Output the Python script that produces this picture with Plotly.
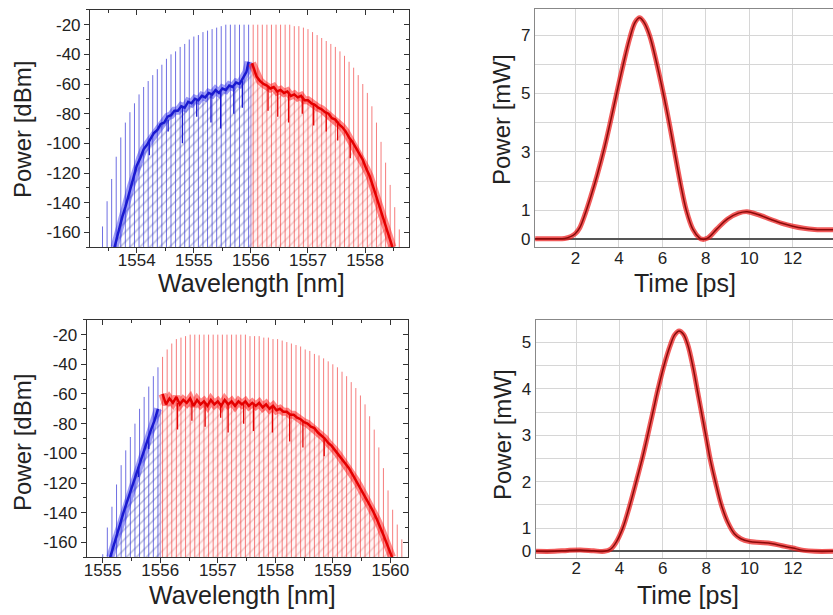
import plotly.graph_objects as go

# Axis limits / split wavelength
Y_MIN, Y_MAX = -170, -10
SPLIT_NM = 1556.0

# ---------- top-left spectrum ----------
tl_blue_comb_nm = [1553.40, 1553.48, 1553.56, 1553.64, 1553.72, 1553.80, 1553.88, 1553.96, 1554.04, 1554.12,
                   1554.20, 1554.28, 1554.36, 1554.44, 1554.52, 1554.60, 1554.68, 1554.76, 1554.84, 1554.92,
                   1555.00, 1555.08, 1555.16, 1555.24, 1555.32, 1555.40, 1555.48, 1555.56, 1555.64, 1555.72,
                   1555.80, 1555.88, 1555.96]
tl_blue_comb_dbm = [-156, -139, -124, -109, -96, -86, -79, -73, -67, -62,
                    -58, -54, -50, -47, -43, -40, -38, -35, -33, -30,
                    -28, -27, -25, -24, -23, -22, -21, -20, -20, -20,
                    -20, -20, -20]
tl_red_comb_nm = [1556.04, 1556.12, 1556.20, 1556.28, 1556.36, 1556.44, 1556.52, 1556.60, 1556.68, 1556.76,
                  1556.84, 1556.92, 1557.00, 1557.08, 1557.16, 1557.24, 1557.32, 1557.40, 1557.48, 1557.56,
                  1557.64, 1557.72, 1557.80, 1557.88, 1557.96, 1558.04, 1558.12, 1558.20, 1558.28, 1558.36,
                  1558.44, 1558.52, 1558.60]
tl_red_comb_dbm = [-20, -20, -20, -20, -20, -20, -20, -20, -20, -21,
                   -21, -22, -23, -25, -27, -29, -31, -33, -35, -38,
                   -41, -45, -49, -54, -60, -66, -75, -86, -99, -113,
                   -128, -143, -158]

tl_blue_nm = [1553.61, 1553.66, 1553.70, 1553.75, 1553.80, 1553.85, 1553.90, 1553.95, 1554.00, 1554.06,
              1554.12, 1554.18, 1554.24, 1554.30, 1554.36, 1554.42, 1554.48, 1554.54, 1554.60, 1554.66,
              1554.72, 1554.78, 1554.84, 1554.90, 1554.96, 1555.02, 1555.08, 1555.14, 1555.20, 1555.26,
              1555.32, 1555.38, 1555.44, 1555.50, 1555.56, 1555.62, 1555.68, 1555.74, 1555.80, 1555.86,
              1555.92, 1555.96]
tl_blue_dbm = [-170, -162, -155, -149, -143, -136, -129, -122, -115, -110,
               -104, -101, -97, -93, -91, -87, -86, -82, -81, -78,
               -78, -75, -76, -72, -73, -70, -71, -68, -69, -66,
               -67, -64, -66, -63, -64, -61, -62, -59, -60, -56,
               -52, -45]
tl_red_nm = [1556.02, 1556.06, 1556.10, 1556.16, 1556.22, 1556.28, 1556.34, 1556.40, 1556.46, 1556.52,
             1556.58, 1556.64, 1556.70, 1556.76, 1556.82, 1556.88, 1556.94, 1557.00, 1557.06, 1557.12,
             1557.18, 1557.24, 1557.30, 1557.36, 1557.42, 1557.48, 1557.54, 1557.60, 1557.66, 1557.72,
             1557.78, 1557.84, 1557.90, 1557.96, 1558.02, 1558.08, 1558.14, 1558.20, 1558.26, 1558.32,
             1558.38, 1558.44, 1558.48]
tl_red_dbm = [-46, -50, -55, -58, -60, -61, -63, -62, -65, -64,
              -66, -65, -68, -67, -69, -68, -71, -71, -73, -74,
              -76, -77, -79, -80, -83, -84, -87, -89, -92, -96,
              -99, -103, -107, -111, -117, -122, -129, -136, -143, -150,
              -158, -165, -170]

# downward spikes in the noise band (position, top, bottom)
tl_blue_dip_nm = [1554.22, 1554.55, 1554.80, 1555.05, 1555.30, 1555.47, 1555.70, 1555.85]
tl_blue_dip_top = [-99, -84, -76, -71, -67, -65, -62, -58]
tl_blue_dip_bot = [-108, -92, -100, -82, -86, -90, -80, -76]
tl_red_dip_nm = [1556.30, 1556.47, 1556.66, 1556.90, 1557.10, 1557.32, 1557.52, 1557.74]
tl_red_dip_top = [-62, -64, -66, -69, -73, -79, -85, -97]
tl_red_dip_bot = [-78, -82, -86, -80, -88, -92, -98, -110]

# ---------- bottom-left spectrum ----------
bl_blue_comb_nm = [1555.00, 1555.08, 1555.16, 1555.24, 1555.32, 1555.40, 1555.48, 1555.56, 1555.64, 1555.72,
                   1555.80, 1555.88, 1555.96]
bl_blue_comb_dbm = [-168, -150, -136, -121, -108, -98, -89, -80, -70, -62, -55, -48, -42]
bl_red_comb_nm = [1556.04, 1556.12, 1556.20, 1556.28, 1556.36, 1556.44, 1556.52, 1556.60, 1556.68, 1556.76,
                  1556.84, 1556.92, 1557.00, 1557.08, 1557.16, 1557.24, 1557.32, 1557.40, 1557.48, 1557.56,
                  1557.64, 1557.72, 1557.80, 1557.88, 1557.96, 1558.04, 1558.12, 1558.20, 1558.28, 1558.36,
                  1558.44, 1558.52, 1558.60, 1558.68, 1558.76, 1558.84, 1558.92, 1559.00, 1559.08, 1559.16,
                  1559.24, 1559.32, 1559.40, 1559.48, 1559.56, 1559.64, 1559.72, 1559.80, 1559.88, 1559.96,
                  1560.04, 1560.12, 1560.20]
bl_red_comb_dbm = [-35, -30, -26, -23, -22, -21, -20, -20, -20, -20,
                   -20, -20, -20, -20, -20, -20, -20, -20, -20, -21,
                   -21, -21, -22, -22, -23, -23, -24, -25, -26, -27,
                   -28, -30, -31, -33, -34, -36, -38, -40, -42, -45,
                   -48, -52, -56, -61, -67, -75, -84, -96, -110, -125,
                   -138, -148, -158]

bl_blue_nm = [1555.13, 1555.18, 1555.24, 1555.30, 1555.36, 1555.42, 1555.48, 1555.54, 1555.60, 1555.66,
              1555.72, 1555.78, 1555.84, 1555.90, 1555.96]
bl_blue_dbm = [-170, -164, -156, -148, -140, -133, -125, -118, -111, -105, -97, -91, -84, -78, -70]
bl_red_nm = [1556.04, 1556.10, 1556.16, 1556.22, 1556.28, 1556.34, 1556.40, 1556.46, 1556.52, 1556.58,
             1556.64, 1556.70, 1556.76, 1556.82, 1556.88, 1556.94, 1557.00, 1557.06, 1557.12, 1557.18,
             1557.24, 1557.30, 1557.36, 1557.42, 1557.48, 1557.54, 1557.60, 1557.66, 1557.72, 1557.78,
             1557.84, 1557.90, 1557.96, 1558.02, 1558.08, 1558.14, 1558.20, 1558.26, 1558.32, 1558.38,
             1558.44, 1558.50, 1558.56, 1558.62, 1558.68, 1558.74, 1558.80, 1558.86, 1558.92, 1558.98,
             1559.04, 1559.10, 1559.16, 1559.22, 1559.28, 1559.34, 1559.40, 1559.46, 1559.52, 1559.58,
             1559.64, 1559.70, 1559.76, 1559.82, 1559.88, 1559.94, 1560.00, 1560.03]
bl_red_dbm = [-60, -67, -63, -66, -62, -67, -64, -66, -63, -68,
              -64, -67, -65, -68, -64, -67, -65, -68, -64, -67,
              -65, -68, -65, -67, -65, -68, -66, -68, -66, -69,
              -67, -70, -68, -71, -70, -72, -72, -74, -74, -76,
              -77, -79, -80, -82, -83, -86, -88, -90, -93, -95,
              -98, -101, -104, -107, -110, -114, -118, -122, -126, -130,
              -135, -139, -144, -149, -155, -161, -167, -170]

bl_blue_dip_nm = [1555.62, 1555.80]
bl_blue_dip_top = [-109, -89]
bl_blue_dip_bot = [-116, -97]
bl_red_dip_nm = [1556.30, 1556.55, 1556.78, 1557.05, 1557.18, 1557.45, 1557.62, 1557.95, 1558.25, 1558.48, 1558.85]
bl_red_dip_top = [-66, -66, -66, -66, -66, -66, -67, -69, -73, -78, -89]
bl_red_dip_bot = [-84, -78, -82, -76, -86, -80, -85, -86, -92, -96, -102]

spec_ticks = [-20, -40, -60, -80, -100, -120, -140, -160]
spec_ticktext = ['-20', '-40', '-60', '-80', '-100', '-120', '-140', '-160']

# ---------- pulses ----------
tr_time_ps = [0.15, 1.0, 1.5, 1.8, 2.0, 2.2, 2.46, 2.7, 3.0, 3.32, 3.6, 3.88, 4.2, 4.5, 4.75, 4.95, 5.15,
              5.41, 5.75, 6.1, 6.35, 6.56, 6.85, 7.1, 7.4, 7.7, 7.85, 8.1, 8.5, 9.0, 9.5, 9.9, 10.4, 11.0,
              11.5, 12.0, 12.5, 13.0, 13.85]
tr_power_mw = [0.02, 0.02, 0.03, 0.1, 0.2, 0.4, 0.9, 1.45, 2.2, 3.1, 4.0, 4.95, 6.0, 6.9, 7.45, 7.6, 7.45,
               7.0, 6.0, 4.8, 3.85, 3.0, 1.85, 1.0, 0.35, 0.05, 0.0, 0.05, 0.35, 0.7, 0.9, 0.95, 0.85, 0.68,
               0.55, 0.45, 0.38, 0.34, 0.33]
tr_ticks = [0, 1, 2, 3, 4, 5, 6, 7]
tr_ticktext = ['0', '1', '', '3', '', '5', '', '7']

br_time_ps = [0.15, 1.0, 1.6, 2.2, 2.8, 3.3, 3.6, 3.85, 4.15, 4.45, 4.77, 5.05, 5.31, 5.55, 5.78, 6.05,
              6.35, 6.55, 6.75, 6.95, 7.15, 7.4, 7.6, 7.8, 8.0, 8.2, 8.45, 8.7, 9.0, 9.3, 9.6, 10.0,
              10.5, 11.0, 11.5, 12.0, 12.5, 13.0, 13.85]
br_power = [0.0, 0.0, 0.02, 0.03, 0.01, 0.0, 0.05, 0.2, 0.5, 0.95, 1.5, 2.0, 2.52, 3.02, 3.5, 4.0,
            4.45, 4.67, 4.75, 4.68, 4.45, 3.95, 3.45, 2.95, 2.45, 1.95, 1.45, 1.0, 0.62, 0.38, 0.27, 0.21,
            0.19, 0.17, 0.12, 0.07, 0.02, 0.0, 0.0]
br_ticks = [0, 0.5, 1, 1.5, 2, 2.5, 3, 3.5, 4, 4.5]
br_ticktext = ['0', '1', '', '2', '', '3', '', '4', '', '5']

time_ticks = [2, 4, 6, 8, 10, 12, 14]

FONT = 'Liberation Sans, Arial, sans-serif'
BLUE_COMB = 'rgba(55,55,215,0.72)'
RED_COMB = 'rgba(240,45,45,0.62)'


def segs(xs, lo, hi):
    x, y = [], []
    for w, a, b in zip(xs, lo, hi):
        x += [w, w, None]
        y += [a, b, None]
    return x, y


def add_spectrum(fig, xa, ya, comb, noise, dips):
    (b_cnm, b_cdb), (r_cnm, r_cdb) = comb
    (b_nm, b_dbm), (r_nm, r_dbm) = noise
    # hatched areas under the noise traces
    fig.add_trace(go.Scatter(
        x=b_nm + [SPLIT_NM, SPLIT_NM], y=b_dbm + [b_dbm[-1], Y_MIN],
        fill='toself', mode='none', fillcolor='rgba(255,255,255,0)',
        fillpattern=dict(shape='/', fgcolor='#6f78b4', bgcolor='rgba(255,255,255,0)', size=7, solidity=0.22),
        xaxis=xa, yaxis=ya, hoverinfo='skip'))
    fig.add_trace(go.Scatter(
        x=[SPLIT_NM, SPLIT_NM] + r_nm, y=[Y_MIN, r_dbm[0]] + r_dbm,
        fill='toself', mode='none', fillcolor='rgba(255,235,235,0.5)',
        fillpattern=dict(shape='/', fgcolor='#e59a9a', bgcolor='rgba(255,238,238,0.5)', size=7, solidity=0.22),
        xaxis=xa, yaxis=ya, hoverinfo='skip'))
    # comb lines
    cx, cy = segs(b_cnm, [Y_MIN] * len(b_cnm), b_cdb)
    fig.add_trace(go.Scatter(x=cx, y=cy, mode='lines', line=dict(color=BLUE_COMB, width=1),
                             xaxis=xa, yaxis=ya, hoverinfo='skip'))
    cx, cy = segs(r_cnm, [Y_MIN] * len(r_cnm), r_cdb)
    fig.add_trace(go.Scatter(x=cx, y=cy, mode='lines', line=dict(color=RED_COMB, width=1),
                             xaxis=xa, yaxis=ya, hoverinfo='skip'))
    # split line
    fig.add_trace(go.Scatter(x=[SPLIT_NM, SPLIT_NM], y=[b_dbm[-1], Y_MIN], mode='lines',
                             line=dict(color='rgba(140,110,200,0.8)', width=1), xaxis=xa, yaxis=ya))
    # noise traces with spikes
    for (xs, ys), (dn, dt, db), wide, core in [((b_nm, b_dbm), dips[0], 'rgba(40,40,235,0.45)', '#1a1ad0'),
                                                ((r_nm, r_dbm), dips[1], 'rgba(255,20,20,0.5)', '#e40000')]:
        fig.add_trace(go.Scatter(x=xs, y=ys, mode='lines', line=dict(color=wide, width=8),
                                 xaxis=xa, yaxis=ya, hoverinfo='skip'))
        fig.add_trace(go.Scatter(x=xs, y=ys, mode='lines', line=dict(color=core, width=2.5),
                                 xaxis=xa, yaxis=ya, hoverinfo='skip'))
        sx, sy = segs(dn, dt, db)
        fig.add_trace(go.Scatter(x=sx, y=sy, mode='lines', line=dict(color=core, width=1.3),
                                 xaxis=xa, yaxis=ya, hoverinfo='skip'))


def add_pulse(fig, xa, ya, t, p):
    fig.add_trace(go.Scatter(x=t, y=p, mode='lines', line=dict(color='rgba(235,20,20,0.7)', width=5, shape='spline'),
                             xaxis=xa, yaxis=ya, hoverinfo='skip'))
    fig.add_trace(go.Scatter(x=t, y=p, mode='lines', line=dict(color='#8a0a0a', width=1.5, shape='spline'),
                             xaxis=xa, yaxis=ya, hoverinfo='skip'))


fig = go.Figure()
add_spectrum(fig, 'x', 'y',
             ((tl_blue_comb_nm, tl_blue_comb_dbm), (tl_red_comb_nm, tl_red_comb_dbm)),
             ((tl_blue_nm, tl_blue_dbm), (tl_red_nm, tl_red_dbm)),
             ((tl_blue_dip_nm, tl_blue_dip_top, tl_blue_dip_bot), (tl_red_dip_nm, tl_red_dip_top, tl_red_dip_bot)))
add_pulse(fig, 'x2', 'y2', tr_time_ps, tr_power_mw)
add_spectrum(fig, 'x3', 'y3',
             ((bl_blue_comb_nm, bl_blue_comb_dbm), (bl_red_comb_nm, bl_red_comb_dbm)),
             ((bl_blue_nm, bl_blue_dbm), (bl_red_nm, bl_red_dbm)),
             ((bl_blue_dip_nm, bl_blue_dip_top, bl_blue_dip_bot), (bl_red_dip_nm, bl_red_dip_top, bl_red_dip_bot)))
add_pulse(fig, 'x4', 'y4', br_time_ps, br_power)
# empty traces so the inside-tick overlay axes (top / right of the spectra) are drawn
fig.add_trace(go.Scatter(x=[], y=[], xaxis='x5', yaxis='y5'))
fig.add_trace(go.Scatter(x=[], y=[], xaxis='x6', yaxis='y6'))

spec_x = dict(showline=True, linecolor='#333', linewidth=1, mirror=True, ticks='outside', ticklen=5,
              tickcolor='#333', dtick=1, showgrid=False, zeroline=False, tickfont=dict(size=17),
              minor=dict(dtick=0.5, ticks='outside', ticklen=3, tickcolor='#333'),
              automargin=False, ticklabelstandoff=-8)
spec_y = dict(showline=True, linecolor='#333', linewidth=1, mirror=True, ticks='outside', ticklen=5,
              tickcolor='#333', range=[Y_MIN, Y_MAX], tickvals=spec_ticks, ticktext=spec_ticktext,
              showgrid=False, zeroline=False, tickfont=dict(size=17),
              minor=dict(dtick=10, ticks='outside', ticklen=3, tickcolor='#333'), automargin=False)
spec_x_top = dict(side='top', ticks='inside', ticklen=5, tickcolor='#333', dtick=1, showticklabels=False,
                  showline=False, showgrid=False, zeroline=False, automargin=False,
                  minor=dict(dtick=0.5, ticks='inside', ticklen=3, tickcolor='#333'))
spec_y_right = dict(side='right', ticks='inside', ticklen=5, tickcolor='#333', tickvals=spec_ticks,
                    showticklabels=False, showline=False, showgrid=False, zeroline=False, automargin=False,
                    range=[Y_MIN, Y_MAX], minor=dict(dtick=10, ticks='inside', ticklen=3, tickcolor='#333'))
pulse_x = dict(showline=True, linecolor='#888', mirror=True, ticks='', tickvals=time_ticks,
               showgrid=True, gridcolor='#d6d6d6', zeroline=False, tickfont=dict(size=17),
               automargin=False, ticklabelstandoff=-5)
pulse_y = dict(showline=True, linecolor='#888', mirror=False, ticks='', showgrid=True, gridcolor='#d6d6d6',
               zeroline=True, zerolinecolor='#555', zerolinewidth=1.5, tickfont=dict(size=17), automargin=False)

W, H = 833, 615


def title(text, px, py, angle=0, size=25):
    return dict(text=text, x=px / W, y=1 - py / H, xref='paper', yref='paper', showarrow=False,
                textangle=angle, font=dict(size=size, family=FONT, color='#222'),
                xanchor='center', yanchor='middle')


fig.update_layout(
    width=W, height=H, margin=dict(l=0, r=0, t=0, b=0),
    paper_bgcolor='white', plot_bgcolor='white', showlegend=False,
    font=dict(family=FONT, color='#222'),
    xaxis=dict(spec_x, domain=[0.108, 0.491], range=[1553.18, 1558.77], anchor='y'),
    yaxis=dict(spec_y, domain=[0.598, 0.984], anchor='x'),
    xaxis2=dict(pulse_x, domain=[0.642, 1.0], range=[0.13, 13.85], anchor='y2'),
    yaxis2=dict(pulse_y, domain=[0.598, 0.985], range=[-0.27, 7.89], tickvals=tr_ticks, ticktext=tr_ticktext,
                anchor='x2'),
    xaxis3=dict(spec_x, domain=[0.104, 0.490], range=[1554.72, 1560.31], anchor='y3'),
    yaxis3=dict(spec_y, domain=[0.094, 0.480], anchor='x3'),
    xaxis4=dict(pulse_x, domain=[0.643, 1.0], range=[0.13, 13.85], anchor='y4'),
    yaxis4=dict(pulse_y, domain=[0.093, 0.480], range=[-0.14, 4.99], tickvals=br_ticks, ticktext=br_ticktext,
                anchor='x4'),
    xaxis5=dict(spec_x_top, overlaying='x', anchor='y', range=[1553.18, 1558.77]),
    yaxis5=dict(spec_y_right, overlaying='y', anchor='x'),
    xaxis6=dict(spec_x_top, overlaying='x3', anchor='y3', range=[1554.72, 1560.31]),
    yaxis6=dict(spec_y_right, overlaying='y3', anchor='x3'),
    annotations=[
        title('Wavelength [nm]', 252, 283),
        title('Wavelength [nm]', 242, 595),
        title('Time [ps]', 685, 283),
        title('Time [ps]', 688, 595),
        title('Power [dBm]', 22, 130, -90, 24),
        title('Power [dBm]', 22, 443, -90, 24),
        title('Power [mW]', 502, 120, -90, 24),
        title('Power [mW]', 502, 435, -90, 24),
    ],
)

# page body margin off so the figure sits at the window's top-left corner
fig.write_html("out.html", config={'displayModeBar': False},
               post_script="document.body.style.margin='0';")
